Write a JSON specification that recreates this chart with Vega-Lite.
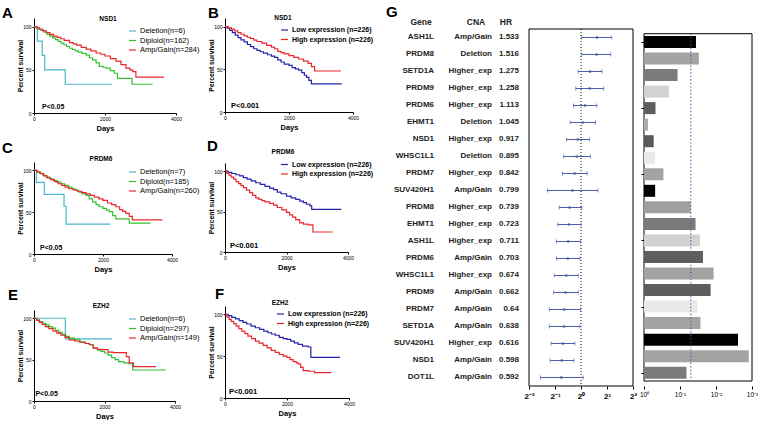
{
"$schema":"https://vega.github.io/schema/vega-lite/v6.json",
"background":"white",
"padding":{"left":2,"top":5,"right":0,"bottom":0},
"config":{
 "font":"Liberation Sans",
 "view":{"stroke":null},
 "axis":{"grid":false,"domainColor":"#000","tickColor":"#000","labelColor":"#000","titleColor":"#000","labelFontSize":5,"tickSize":2,"labelPadding":1,"titleFontSize":7,"titleFontWeight":"bold","labelFlush":false,"labelOverlap":false,"domainWidth":1,"tickWidth":1},
 "legend":{"orient":"none","labelFontSize":7.5,"symbolType":"stroke","symbolSize":50,"symbolStrokeWidth":1.2,"rowPadding":1.5,"labelOffset":3,"padding":0,"labelColor":"#000"},
 "text":{"color":"#000"}
},
"datasets":{
 "A":[
  {"g":"Deletion(n=6)","t":0,"s":100},{"g":"Deletion(n=6)","t":95,"s":83.3},{"g":"Deletion(n=6)","t":230,"s":66.7},{"g":"Deletion(n=6)","t":300,"s":50},{"g":"Deletion(n=6)","t":880,"s":33.3},{"g":"Deletion(n=6)","t":2200,"s":33.3},
  {"g":"Diploid(n=162)","t":0,"s":100},{"g":"Diploid(n=162)","t":60,"s":98.5},{"g":"Diploid(n=162)","t":130,"s":97},{"g":"Diploid(n=162)","t":200,"s":95.5},{"g":"Diploid(n=162)","t":280,"s":93.5},{"g":"Diploid(n=162)","t":360,"s":91},{"g":"Diploid(n=162)","t":440,"s":89},{"g":"Diploid(n=162)","t":520,"s":87},{"g":"Diploid(n=162)","t":600,"s":85},{"g":"Diploid(n=162)","t":680,"s":83},{"g":"Diploid(n=162)","t":760,"s":81},{"g":"Diploid(n=162)","t":840,"s":79},{"g":"Diploid(n=162)","t":920,"s":77},{"g":"Diploid(n=162)","t":1000,"s":75},{"g":"Diploid(n=162)","t":1080,"s":73.5},{"g":"Diploid(n=162)","t":1160,"s":72},{"g":"Diploid(n=162)","t":1250,"s":70.5},{"g":"Diploid(n=162)","t":1350,"s":69},{"g":"Diploid(n=162)","t":1470,"s":67},{"g":"Diploid(n=162)","t":1560,"s":64},{"g":"Diploid(n=162)","t":1650,"s":61.5},{"g":"Diploid(n=162)","t":1750,"s":58},{"g":"Diploid(n=162)","t":1840,"s":54},{"g":"Diploid(n=162)","t":1950,"s":53},{"g":"Diploid(n=162)","t":2030,"s":52},{"g":"Diploid(n=162)","t":2150,"s":49},{"g":"Diploid(n=162)","t":2260,"s":46},{"g":"Diploid(n=162)","t":2350,"s":40},{"g":"Diploid(n=162)","t":2760,"s":33.3},{"g":"Diploid(n=162)","t":3340,"s":33.3},
  {"g":"Amp/Gain(n=284)","t":0,"s":100},{"g":"Amp/Gain(n=284)","t":80,"s":98.5},{"g":"Amp/Gain(n=284)","t":160,"s":97},{"g":"Amp/Gain(n=284)","t":250,"s":95},{"g":"Amp/Gain(n=284)","t":350,"s":93},{"g":"Amp/Gain(n=284)","t":450,"s":91},{"g":"Amp/Gain(n=284)","t":550,"s":89},{"g":"Amp/Gain(n=284)","t":650,"s":87.5},{"g":"Amp/Gain(n=284)","t":750,"s":86},{"g":"Amp/Gain(n=284)","t":850,"s":84},{"g":"Amp/Gain(n=284)","t":1000,"s":81.5},{"g":"Amp/Gain(n=284)","t":1100,"s":80},{"g":"Amp/Gain(n=284)","t":1200,"s":78.5},{"g":"Amp/Gain(n=284)","t":1330,"s":76},{"g":"Amp/Gain(n=284)","t":1470,"s":74},{"g":"Amp/Gain(n=284)","t":1600,"s":72},{"g":"Amp/Gain(n=284)","t":1750,"s":69.5},{"g":"Amp/Gain(n=284)","t":1880,"s":68},{"g":"Amp/Gain(n=284)","t":2000,"s":66},{"g":"Amp/Gain(n=284)","t":2150,"s":63},{"g":"Amp/Gain(n=284)","t":2310,"s":60},{"g":"Amp/Gain(n=284)","t":2450,"s":56},{"g":"Amp/Gain(n=284)","t":2590,"s":52},{"g":"Amp/Gain(n=284)","t":2700,"s":50},{"g":"Amp/Gain(n=284)","t":2780,"s":48},{"g":"Amp/Gain(n=284)","t":2870,"s":41.5},{"g":"Amp/Gain(n=284)","t":3660,"s":41.5}
 ],
 "B":[
  {"g":"Low expression (n=226)","t":0,"s":100},{"g":"Low expression (n=226)","t":70,"s":98},{"g":"Low expression (n=226)","t":150,"s":95.5},{"g":"Low expression (n=226)","t":230,"s":93},{"g":"Low expression (n=226)","t":320,"s":90},{"g":"Low expression (n=226)","t":410,"s":87},{"g":"Low expression (n=226)","t":500,"s":84.5},{"g":"Low expression (n=226)","t":600,"s":82},{"g":"Low expression (n=226)","t":700,"s":79},{"g":"Low expression (n=226)","t":800,"s":76.5},{"g":"Low expression (n=226)","t":900,"s":74},{"g":"Low expression (n=226)","t":1000,"s":72},{"g":"Low expression (n=226)","t":1100,"s":70.5},{"g":"Low expression (n=226)","t":1200,"s":69},{"g":"Low expression (n=226)","t":1330,"s":67},{"g":"Low expression (n=226)","t":1450,"s":65.5},{"g":"Low expression (n=226)","t":1550,"s":64},{"g":"Low expression (n=226)","t":1650,"s":61},{"g":"Low expression (n=226)","t":1750,"s":58.5},{"g":"Low expression (n=226)","t":1850,"s":56},{"g":"Low expression (n=226)","t":2000,"s":54.5},{"g":"Low expression (n=226)","t":2100,"s":52},{"g":"Low expression (n=226)","t":2200,"s":50.5},{"g":"Low expression (n=226)","t":2300,"s":49},{"g":"Low expression (n=226)","t":2400,"s":46},{"g":"Low expression (n=226)","t":2480,"s":43},{"g":"Low expression (n=226)","t":2550,"s":40.5},{"g":"Low expression (n=226)","t":2620,"s":37},{"g":"Low expression (n=226)","t":2700,"s":33},{"g":"Low expression (n=226)","t":3650,"s":33},
  {"g":"High expression (n=226)","t":0,"s":100},{"g":"High expression (n=226)","t":100,"s":98.5},{"g":"High expression (n=226)","t":200,"s":97},{"g":"High expression (n=226)","t":300,"s":95},{"g":"High expression (n=226)","t":400,"s":93},{"g":"High expression (n=226)","t":500,"s":91},{"g":"High expression (n=226)","t":600,"s":89},{"g":"High expression (n=226)","t":700,"s":87.5},{"g":"High expression (n=226)","t":800,"s":86},{"g":"High expression (n=226)","t":900,"s":84},{"g":"High expression (n=226)","t":1000,"s":82.5},{"g":"High expression (n=226)","t":1150,"s":80.5},{"g":"High expression (n=226)","t":1300,"s":78},{"g":"High expression (n=226)","t":1450,"s":76},{"g":"High expression (n=226)","t":1550,"s":74},{"g":"High expression (n=226)","t":1650,"s":71},{"g":"High expression (n=226)","t":1750,"s":69.5},{"g":"High expression (n=226)","t":1850,"s":68},{"g":"High expression (n=226)","t":2000,"s":66},{"g":"High expression (n=226)","t":2150,"s":64},{"g":"High expression (n=226)","t":2300,"s":62},{"g":"High expression (n=226)","t":2450,"s":59.5},{"g":"High expression (n=226)","t":2600,"s":57},{"g":"High expression (n=226)","t":2700,"s":53},{"g":"High expression (n=226)","t":2800,"s":48},{"g":"High expression (n=226)","t":3620,"s":48}
 ],
 "C":[
  {"g":"Deletion(n=7)","t":0,"s":100},{"g":"Deletion(n=7)","t":70,"s":85.7},{"g":"Deletion(n=7)","t":300,"s":71.4},{"g":"Deletion(n=7)","t":870,"s":57.1},{"g":"Deletion(n=7)","t":930,"s":35.7},{"g":"Deletion(n=7)","t":2210,"s":35.7},
  {"g":"Diploid(n=185)","t":0,"s":100},{"g":"Diploid(n=185)","t":80,"s":98.5},{"g":"Diploid(n=185)","t":170,"s":96.5},{"g":"Diploid(n=185)","t":260,"s":94},{"g":"Diploid(n=185)","t":350,"s":92},{"g":"Diploid(n=185)","t":450,"s":90},{"g":"Diploid(n=185)","t":560,"s":88},{"g":"Diploid(n=185)","t":670,"s":86},{"g":"Diploid(n=185)","t":780,"s":84},{"g":"Diploid(n=185)","t":890,"s":82},{"g":"Diploid(n=185)","t":1000,"s":80},{"g":"Diploid(n=185)","t":1100,"s":78},{"g":"Diploid(n=185)","t":1200,"s":76},{"g":"Diploid(n=185)","t":1300,"s":74},{"g":"Diploid(n=185)","t":1400,"s":72},{"g":"Diploid(n=185)","t":1510,"s":70},{"g":"Diploid(n=185)","t":1600,"s":66},{"g":"Diploid(n=185)","t":1700,"s":62},{"g":"Diploid(n=185)","t":1800,"s":59},{"g":"Diploid(n=185)","t":1890,"s":56.5},{"g":"Diploid(n=185)","t":2000,"s":54.5},{"g":"Diploid(n=185)","t":2100,"s":52.5},{"g":"Diploid(n=185)","t":2180,"s":50.6},{"g":"Diploid(n=185)","t":2280,"s":46},{"g":"Diploid(n=185)","t":2370,"s":42},{"g":"Diploid(n=185)","t":2760,"s":36.8},{"g":"Diploid(n=185)","t":3380,"s":36.8},
  {"g":"Amp/Gain(n=260)","t":0,"s":100},{"g":"Amp/Gain(n=260)","t":90,"s":98},{"g":"Amp/Gain(n=260)","t":180,"s":96},{"g":"Amp/Gain(n=260)","t":280,"s":93.5},{"g":"Amp/Gain(n=260)","t":380,"s":91},{"g":"Amp/Gain(n=260)","t":480,"s":89},{"g":"Amp/Gain(n=260)","t":590,"s":86.5},{"g":"Amp/Gain(n=260)","t":700,"s":84},{"g":"Amp/Gain(n=260)","t":800,"s":82},{"g":"Amp/Gain(n=260)","t":900,"s":80},{"g":"Amp/Gain(n=260)","t":1000,"s":78},{"g":"Amp/Gain(n=260)","t":1130,"s":76.5},{"g":"Amp/Gain(n=260)","t":1250,"s":75},{"g":"Amp/Gain(n=260)","t":1380,"s":73.5},{"g":"Amp/Gain(n=260)","t":1510,"s":72},{"g":"Amp/Gain(n=260)","t":1630,"s":70},{"g":"Amp/Gain(n=260)","t":1750,"s":68},{"g":"Amp/Gain(n=260)","t":1880,"s":66},{"g":"Amp/Gain(n=260)","t":2000,"s":64},{"g":"Amp/Gain(n=260)","t":2130,"s":61},{"g":"Amp/Gain(n=260)","t":2250,"s":59},{"g":"Amp/Gain(n=260)","t":2370,"s":56.5},{"g":"Amp/Gain(n=260)","t":2480,"s":53},{"g":"Amp/Gain(n=260)","t":2570,"s":51},{"g":"Amp/Gain(n=260)","t":2660,"s":48.6},{"g":"Amp/Gain(n=260)","t":2760,"s":45},{"g":"Amp/Gain(n=260)","t":2850,"s":40.7},{"g":"Amp/Gain(n=260)","t":3720,"s":40.7}
 ],
 "D":[
  {"g":"Low expression (n=226)","t":0,"s":100},{"g":"Low expression (n=226)","t":100,"s":98.5},{"g":"Low expression (n=226)","t":220,"s":97},{"g":"Low expression (n=226)","t":350,"s":95.5},{"g":"Low expression (n=226)","t":480,"s":94},{"g":"Low expression (n=226)","t":600,"s":92},{"g":"Low expression (n=226)","t":720,"s":90},{"g":"Low expression (n=226)","t":850,"s":88},{"g":"Low expression (n=226)","t":1000,"s":85.6},{"g":"Low expression (n=226)","t":1150,"s":83.5},{"g":"Low expression (n=226)","t":1300,"s":81},{"g":"Low expression (n=226)","t":1450,"s":79},{"g":"Low expression (n=226)","t":1580,"s":77},{"g":"Low expression (n=226)","t":1700,"s":74},{"g":"Low expression (n=226)","t":1820,"s":72},{"g":"Low expression (n=226)","t":2000,"s":69},{"g":"Low expression (n=226)","t":2150,"s":67},{"g":"Low expression (n=226)","t":2300,"s":65},{"g":"Low expression (n=226)","t":2430,"s":63},{"g":"Low expression (n=226)","t":2550,"s":61},{"g":"Low expression (n=226)","t":2650,"s":59},{"g":"Low expression (n=226)","t":2760,"s":57},{"g":"Low expression (n=226)","t":2820,"s":52.7},{"g":"Low expression (n=226)","t":3780,"s":52.7},
  {"g":"High expression (n=226)","t":0,"s":100},{"g":"High expression (n=226)","t":60,"s":97.5},{"g":"High expression (n=226)","t":130,"s":95},{"g":"High expression (n=226)","t":200,"s":92.5},{"g":"High expression (n=226)","t":280,"s":90},{"g":"High expression (n=226)","t":360,"s":87},{"g":"High expression (n=226)","t":440,"s":84.5},{"g":"High expression (n=226)","t":520,"s":82},{"g":"High expression (n=226)","t":600,"s":79.5},{"g":"High expression (n=226)","t":700,"s":76.5},{"g":"High expression (n=226)","t":800,"s":73.5},{"g":"High expression (n=226)","t":900,"s":70},{"g":"High expression (n=226)","t":1000,"s":67},{"g":"High expression (n=226)","t":1100,"s":65},{"g":"High expression (n=226)","t":1200,"s":63.5},{"g":"High expression (n=226)","t":1300,"s":62},{"g":"High expression (n=226)","t":1450,"s":60},{"g":"High expression (n=226)","t":1580,"s":58},{"g":"High expression (n=226)","t":1700,"s":55},{"g":"High expression (n=226)","t":1850,"s":52},{"g":"High expression (n=226)","t":2000,"s":49},{"g":"High expression (n=226)","t":2100,"s":46},{"g":"High expression (n=226)","t":2200,"s":43},{"g":"High expression (n=226)","t":2300,"s":40},{"g":"High expression (n=226)","t":2430,"s":36},{"g":"High expression (n=226)","t":2550,"s":34.5},{"g":"High expression (n=226)","t":2700,"s":33.5},{"g":"High expression (n=226)","t":2860,"s":24.7},{"g":"High expression (n=226)","t":3500,"s":24.7}
 ],
 "E":[
  {"g":"Deletion(n=6)","t":0,"s":100},{"g":"Deletion(n=6)","t":890,"s":75},{"g":"Deletion(n=6)","t":2220,"s":75},
  {"g":"Diploid(n=297)","t":0,"s":100},{"g":"Diploid(n=297)","t":80,"s":98},{"g":"Diploid(n=297)","t":160,"s":96},{"g":"Diploid(n=297)","t":250,"s":94},{"g":"Diploid(n=297)","t":340,"s":92},{"g":"Diploid(n=297)","t":430,"s":90},{"g":"Diploid(n=297)","t":520,"s":88},{"g":"Diploid(n=297)","t":610,"s":85.5},{"g":"Diploid(n=297)","t":700,"s":83},{"g":"Diploid(n=297)","t":800,"s":80.5},{"g":"Diploid(n=297)","t":900,"s":78},{"g":"Diploid(n=297)","t":1000,"s":76},{"g":"Diploid(n=297)","t":1150,"s":74},{"g":"Diploid(n=297)","t":1300,"s":71.5},{"g":"Diploid(n=297)","t":1450,"s":69.5},{"g":"Diploid(n=297)","t":1570,"s":68},{"g":"Diploid(n=297)","t":1680,"s":64},{"g":"Diploid(n=297)","t":1800,"s":61.5},{"g":"Diploid(n=297)","t":1900,"s":60},{"g":"Diploid(n=297)","t":2000,"s":58},{"g":"Diploid(n=297)","t":2100,"s":55.5},{"g":"Diploid(n=297)","t":2200,"s":52.5},{"g":"Diploid(n=297)","t":2300,"s":50},{"g":"Diploid(n=297)","t":2400,"s":47.6},{"g":"Diploid(n=297)","t":2550,"s":46},{"g":"Diploid(n=297)","t":2700,"s":45},{"g":"Diploid(n=297)","t":2800,"s":37.5},{"g":"Diploid(n=297)","t":3740,"s":37.5},
  {"g":"Amp/Gain(n=149)","t":0,"s":100},{"g":"Amp/Gain(n=149)","t":70,"s":97.5},{"g":"Amp/Gain(n=149)","t":150,"s":95},{"g":"Amp/Gain(n=149)","t":230,"s":92.5},{"g":"Amp/Gain(n=149)","t":320,"s":90},{"g":"Amp/Gain(n=149)","t":420,"s":87.5},{"g":"Amp/Gain(n=149)","t":540,"s":84.5},{"g":"Amp/Gain(n=149)","t":650,"s":82},{"g":"Amp/Gain(n=149)","t":760,"s":79.5},{"g":"Amp/Gain(n=149)","t":880,"s":77},{"g":"Amp/Gain(n=149)","t":1000,"s":74},{"g":"Amp/Gain(n=149)","t":1150,"s":72.5},{"g":"Amp/Gain(n=149)","t":1300,"s":71},{"g":"Amp/Gain(n=149)","t":1450,"s":69.5},{"g":"Amp/Gain(n=149)","t":1570,"s":68},{"g":"Amp/Gain(n=149)","t":1680,"s":64},{"g":"Amp/Gain(n=149)","t":1800,"s":62.5},{"g":"Amp/Gain(n=149)","t":1950,"s":62},{"g":"Amp/Gain(n=149)","t":2100,"s":59},{"g":"Amp/Gain(n=149)","t":2250,"s":58.5},{"g":"Amp/Gain(n=149)","t":2620,"s":53.6},{"g":"Amp/Gain(n=149)","t":2700,"s":46},{"g":"Amp/Gain(n=149)","t":2820,"s":41.5},{"g":"Amp/Gain(n=149)","t":3460,"s":41.5}
 ],
 "F":[
  {"g":"Low expression (n=226)","t":0,"s":100},{"g":"Low expression (n=226)","t":100,"s":98.5},{"g":"Low expression (n=226)","t":220,"s":96.5},{"g":"Low expression (n=226)","t":340,"s":94.5},{"g":"Low expression (n=226)","t":460,"s":92.5},{"g":"Low expression (n=226)","t":580,"s":90.5},{"g":"Low expression (n=226)","t":700,"s":88.5},{"g":"Low expression (n=226)","t":840,"s":86},{"g":"Low expression (n=226)","t":980,"s":84},{"g":"Low expression (n=226)","t":1120,"s":82},{"g":"Low expression (n=226)","t":1250,"s":80},{"g":"Low expression (n=226)","t":1380,"s":78},{"g":"Low expression (n=226)","t":1500,"s":76.5},{"g":"Low expression (n=226)","t":1620,"s":75},{"g":"Low expression (n=226)","t":1750,"s":72.5},{"g":"Low expression (n=226)","t":1880,"s":71},{"g":"Low expression (n=226)","t":2000,"s":70},{"g":"Low expression (n=226)","t":2120,"s":68},{"g":"Low expression (n=226)","t":2240,"s":66},{"g":"Low expression (n=226)","t":2360,"s":64},{"g":"Low expression (n=226)","t":2500,"s":62},{"g":"Low expression (n=226)","t":2680,"s":61},{"g":"Low expression (n=226)","t":2770,"s":48.6},{"g":"Low expression (n=226)","t":3710,"s":48.6},
  {"g":"High expression (n=226)","t":0,"s":100},{"g":"High expression (n=226)","t":60,"s":97},{"g":"High expression (n=226)","t":130,"s":94},{"g":"High expression (n=226)","t":200,"s":91.5},{"g":"High expression (n=226)","t":280,"s":89},{"g":"High expression (n=226)","t":360,"s":86},{"g":"High expression (n=226)","t":450,"s":83},{"g":"High expression (n=226)","t":540,"s":80},{"g":"High expression (n=226)","t":640,"s":77},{"g":"High expression (n=226)","t":740,"s":74},{"g":"High expression (n=226)","t":860,"s":71},{"g":"High expression (n=226)","t":980,"s":68},{"g":"High expression (n=226)","t":1100,"s":65.5},{"g":"High expression (n=226)","t":1230,"s":63},{"g":"High expression (n=226)","t":1360,"s":60},{"g":"High expression (n=226)","t":1490,"s":57},{"g":"High expression (n=226)","t":1620,"s":54.5},{"g":"High expression (n=226)","t":1750,"s":52},{"g":"High expression (n=226)","t":1880,"s":50},{"g":"High expression (n=226)","t":2000,"s":48.6},{"g":"High expression (n=226)","t":2100,"s":46},{"g":"High expression (n=226)","t":2200,"s":43.5},{"g":"High expression (n=226)","t":2300,"s":42},{"g":"High expression (n=226)","t":2360,"s":40.7},{"g":"High expression (n=226)","t":2440,"s":36.5},{"g":"High expression (n=226)","t":2520,"s":32.8},{"g":"High expression (n=226)","t":2700,"s":32},{"g":"High expression (n=226)","t":2890,"s":30.4},{"g":"High expression (n=226)","t":3430,"s":30.4}
 ],
 "G":[
  {"id":1,"gene":"ASH1L","cna":"Amp/Gain","hr":1.533,"lo":1.02,"hi":2.27,"p":0.036},
  {"id":2,"gene":"PRDM8","cna":"Deletion","hr":1.516,"lo":1.02,"hi":2.21,"p":0.030},
  {"id":3,"gene":"SETD1A","cna":"Higher_exp","hr":1.275,"lo":0.93,"hi":1.75,"p":0.117},
  {"id":4,"gene":"PRDM9","cna":"Higher_exp","hr":1.258,"lo":0.87,"hi":1.83,"p":0.204},
  {"id":5,"gene":"PRDM6","cna":"Higher_exp","hr":1.113,"lo":0.82,"hi":1.53,"p":0.479},
  {"id":6,"gene":"EHMT1","cna":"Deletion","hr":1.045,"lo":0.75,"hi":1.47,"p":0.776},
  {"id":7,"gene":"NSD1","cna":"Higher_exp","hr":0.917,"lo":0.68,"hi":1.26,"p":0.537},
  {"id":8,"gene":"WHSC1L1","cna":"Deletion","hr":0.895,"lo":0.63,"hi":1.29,"p":0.50},
  {"id":9,"gene":"PRDM7","cna":"Higher_exp","hr":0.842,"lo":0.61,"hi":1.18,"p":0.288},
  {"id":10,"gene":"SUV420H1","cna":"Amp/Gain","hr":0.799,"lo":0.41,"hi":1.57,"p":0.49},
  {"id":11,"gene":"PRDM8","cna":"Higher_exp","hr":0.739,"lo":0.56,"hi":1.02,"p":0.050},
  {"id":12,"gene":"EHMT1","cna":"Higher_exp","hr":0.723,"lo":0.54,"hi":1.0,"p":0.037},
  {"id":13,"gene":"ASH1L","cna":"Higher_exp","hr":0.711,"lo":0.52,"hi":0.99,"p":0.028},
  {"id":14,"gene":"PRDM6","cna":"Amp/Gain","hr":0.703,"lo":0.52,"hi":0.97,"p":0.023},
  {"id":15,"gene":"WHSC1L1","cna":"Higher_exp","hr":0.674,"lo":0.49,"hi":0.93,"p":0.0117},
  {"id":16,"gene":"PRDM9","cna":"Amp/Gain","hr":0.662,"lo":0.48,"hi":0.93,"p":0.0141},
  {"id":17,"gene":"PRDM7","cna":"Amp/Gain","hr":0.64,"lo":0.43,"hi":0.99,"p":0.033},
  {"id":18,"gene":"SETD1A","cna":"Amp/Gain","hr":0.638,"lo":0.43,"hi":0.97,"p":0.027},
  {"id":19,"gene":"SUV420H1","cna":"Higher_exp","hr":0.616,"lo":0.45,"hi":0.85,"p":0.00245},
  {"id":20,"gene":"NSD1","cna":"Amp/Gain","hr":0.598,"lo":0.44,"hi":0.83,"p":0.00123},
  {"id":21,"gene":"DOT1L","cna":"Amp/Gain","hr":0.592,"lo":0.34,"hi":1.06,"p":0.066}
 ]
},
"resolve":{"scale":{"color":"independent"}},
"columns":2,
"align":"none",
"spacing":12,
"concat":[
 {"spacing":7,"resolve":{"scale":{"color":"independent"}},"hconcat":[
  {"spacing":14,"resolve":{"scale":{"color":"independent"}},"vconcat":[
   {"spacing":8,"resolve":{"scale":{"color":"independent"}},"vconcat":[
    {"width":142,"height":95,"data":{"name":"A"},
     "layer":[
      {"mark":{"type":"line","interpolate":"step-after","strokeWidth":1.2},
       "encoding":{
        "x":{"field":"t","type":"quantitative","scale":{"domain":[0,4000]},"axis":{"values":[0,1000,2000,3000,4000],"format":"d","title":"Days","titleFontSize":7.5,"titlePadding":3}},
        "y":{"field":"s","type":"quantitative","scale":{"domain":[0,110]},"axis":{"values":[0,50,100],"title":"Percent survival","titleFontSize":6.8,"minExtent":8,"maxExtent":8,"titlePadding":3}},
        "color":{"field":"g","type":"nominal","scale":{"domain":["Deletion(n=6)","Diploid(n=162)","Amp/Gain(n=284)"],"range":["#4fb7c8","#33c233","#e8272d"]},"legend":{"title":null,"legendX":94,"legendY":8.5}}}},
      {"data":{"values":[{}]},"mark":{"type":"text","fontSize":15,"fontWeight":"bold","align":"left","baseline":"middle","dx":-32,"dy":-5.5},"encoding":{"x":{"datum":0},"y":{"datum":110},"text":{"value":"A"}}},
      {"data":{"values":[{}]},"mark":{"type":"text","fontSize":6.5,"fontWeight":"bold"},"encoding":{"x":{"datum":2085},"y":{"datum":109},"text":{"value":"NSD1"}}},
      {"data":{"values":[{}]},"mark":{"type":"text","fontSize":7,"fontWeight":"bold","align":"left"},"encoding":{"x":{"datum":225},"y":{"datum":7},"text":{"value":"P<0.05"}}}
     ]},
    {"width":138,"height":92,"data":{"name":"C"},
     "layer":[
      {"mark":{"type":"line","interpolate":"step-after","strokeWidth":1.2},
       "encoding":{
        "x":{"field":"t","type":"quantitative","scale":{"domain":[0,4000]},"axis":{"values":[0,1000,2000,3000,4000],"format":"d","title":"Days","titleFontSize":7.5,"titlePadding":3}},
        "y":{"field":"s","type":"quantitative","scale":{"domain":[0,110]},"axis":{"values":[0,50,100],"title":"Percent survival","titleFontSize":6.8,"minExtent":8,"maxExtent":8,"titlePadding":3}},
        "color":{"field":"g","type":"nominal","scale":{"domain":["Deletion(n=7)","Diploid(n=185)","Amp/Gain(n=260)"],"range":["#4fb7c8","#33c233","#e8272d"]},"legend":{"title":null,"legendX":94,"legendY":5.5}}}},
      {"data":{"values":[{}]},"mark":{"type":"text","fontSize":15,"fontWeight":"bold","align":"left","baseline":"middle","dx":-32,"dy":-14.5},"encoding":{"x":{"datum":0},"y":{"datum":110},"text":{"value":"C"}}},
      {"data":{"values":[{}]},"mark":{"type":"text","fontSize":6.5,"fontWeight":"bold"},"encoding":{"x":{"datum":1942},"y":{"datum":113.5},"text":{"value":"PRDM6"}}},
      {"data":{"values":[{}]},"mark":{"type":"text","fontSize":7,"fontWeight":"bold","align":"left"},"encoding":{"x":{"datum":174},"y":{"datum":7},"text":{"value":"P<0.05"}}}
     ]}
   ]},
   {"width":141,"height":91,"data":{"name":"E"},
    "layer":[
     {"mark":{"type":"line","interpolate":"step-after","strokeWidth":1.2},
      "encoding":{
       "x":{"field":"t","type":"quantitative","scale":{"domain":[0,4000]},"axis":{"values":[0,1000,2000,3000,4000],"format":"d","title":"Days","titleFontSize":7.5,"titlePadding":3}},
       "y":{"field":"s","type":"quantitative","scale":{"domain":[0,110]},"axis":{"values":[0,50,100],"title":"Percent survival","titleFontSize":6.8,"minExtent":8,"maxExtent":8,"titlePadding":3}},
       "color":{"field":"g","type":"nominal","scale":{"domain":["Deletion(n=6)","Diploid(n=297)","Amp/Gain(n=149)"],"range":["#4fb7c8","#33c233","#e8272d"]},"legend":{"title":null,"legendX":94,"legendY":4.5}}}},
     {"data":{"values":[{}]},"mark":{"type":"text","fontSize":15,"fontWeight":"bold","align":"left","baseline":"middle","dx":-26,"dy":-15.5},"encoding":{"x":{"datum":0},"y":{"datum":110},"text":{"value":"E"}}},
     {"data":{"values":[{}]},"mark":{"type":"text","fontSize":6.5,"fontWeight":"bold"},"encoding":{"x":{"datum":1900},"y":{"datum":115},"text":{"value":"EZH2"}}},
     {"data":{"values":[{}]},"mark":{"type":"text","fontSize":7,"fontWeight":"bold","align":"left"},"encoding":{"x":{"datum":40},"y":{"datum":8.5},"text":{"value":"P<0.05"}}}
    ]}
  ]},
  {"spacing":16,"resolve":{"scale":{"color":"independent"}},"vconcat":[
   {"spacing":8,"resolve":{"scale":{"color":"independent"}},"vconcat":[
    {"width":128,"height":94,"data":{"name":"B"},
     "layer":[
      {"mark":{"type":"line","interpolate":"step-after","strokeWidth":1.2},
       "encoding":{
        "x":{"field":"t","type":"quantitative","scale":{"domain":[0,4000]},"axis":{"values":[0,1000,2000,3000,4000],"format":"d","title":"Days","titleFontSize":7.5,"titlePadding":3}},
        "y":{"field":"s","type":"quantitative","scale":{"domain":[0,110]},"axis":{"values":[0,50,100],"title":"Percent survival","titleFontSize":6.8,"minExtent":8,"maxExtent":8,"titlePadding":3}},
        "color":{"field":"g","type":"nominal","scale":{"domain":["Low expression (n=226)","High expression (n=226)"],"range":["#2424a8","#e8272d"]},"legend":{"title":null,"legendX":55,"legendY":7.5,"labelFontWeight":"bold","labelFontSize":7}}}},
      {"data":{"values":[{}]},"mark":{"type":"text","fontSize":15,"fontWeight":"bold","align":"left","baseline":"middle","dx":-17,"dy":-5.5},"encoding":{"x":{"datum":0},"y":{"datum":110},"text":{"value":"B"}}},
      {"data":{"values":[{}]},"mark":{"type":"text","fontSize":6.5,"fontWeight":"bold"},"encoding":{"x":{"datum":1812},"y":{"datum":110},"text":{"value":"NSD1"}}},
      {"data":{"values":[{}]},"mark":{"type":"text","fontSize":7.5,"fontWeight":"bold","align":"left"},"encoding":{"x":{"datum":190},"y":{"datum":7},"text":{"value":"P<0.001"}}}
     ]},
    {"width":123,"height":89,"data":{"name":"D"},
     "layer":[
      {"mark":{"type":"line","interpolate":"step-after","strokeWidth":1.2},
       "encoding":{
        "x":{"field":"t","type":"quantitative","scale":{"domain":[0,4000]},"axis":{"values":[0,1000,2000,3000,4000],"format":"d","title":"Days","titleFontSize":7.5,"titlePadding":3}},
        "y":{"field":"s","type":"quantitative","scale":{"domain":[0,110]},"axis":{"values":[0,50,100],"title":"Percent survival","titleFontSize":6.8,"minExtent":8,"maxExtent":8,"titlePadding":3}},
        "color":{"field":"g","type":"nominal","scale":{"domain":["Low expression (n=226)","High expression (n=226)"],"range":["#2424a8","#e8272d"]},"legend":{"title":null,"legendX":55,"legendY":-3,"labelFontWeight":"bold","labelFontSize":7}}}},
      {"data":{"values":[{}]},"mark":{"type":"text","fontSize":15,"fontWeight":"bold","align":"left","baseline":"middle","dx":-18,"dy":-17},"encoding":{"x":{"datum":0},"y":{"datum":110},"text":{"value":"D"}}},
      {"data":{"values":[{}]},"mark":{"type":"text","fontSize":6.5,"fontWeight":"bold"},"encoding":{"x":{"datum":1886},"y":{"datum":123.5},"text":{"value":"PRDM6"}}},
      {"data":{"values":[{}]},"mark":{"type":"text","fontSize":7.5,"fontWeight":"bold","align":"left"},"encoding":{"x":{"datum":160},"y":{"datum":7.4},"text":{"value":"P<0.001"}}}
     ]}
   ]},
   {"width":124,"height":92,"data":{"name":"F"},
    "layer":[
     {"mark":{"type":"line","interpolate":"step-after","strokeWidth":1.2},
      "encoding":{
       "x":{"field":"t","type":"quantitative","scale":{"domain":[0,4000]},"axis":{"values":[0,1000,2000,3000,4000],"format":"d","title":"Days","titleFontSize":7.5,"titlePadding":3}},
       "y":{"field":"s","type":"quantitative","scale":{"domain":[0,110]},"axis":{"values":[0,50,100],"title":"Percent survival","titleFontSize":6.8,"minExtent":8,"maxExtent":8,"titlePadding":3}},
       "color":{"field":"g","type":"nominal","scale":{"domain":["Low expression (n=226)","High expression (n=226)"],"range":["#2424a8","#e8272d"]},"legend":{"title":null,"legendX":51,"legendY":3.5,"labelFontWeight":"bold","labelFontSize":7}}}},
     {"data":{"values":[{}]},"mark":{"type":"text","fontSize":15,"fontWeight":"bold","align":"left","baseline":"middle","dx":-10,"dy":-12},"encoding":{"x":{"datum":0},"y":{"datum":110},"text":{"value":"F"}}},
     {"data":{"values":[{}]},"mark":{"type":"text","fontSize":6.5,"fontWeight":"bold"},"encoding":{"x":{"datum":1774},"y":{"datum":113.5},"text":{"value":"EZH2"}}},
     {"data":{"values":[{}]},"mark":{"type":"text","fontSize":7.5,"fontWeight":"bold","align":"left"},"encoding":{"x":{"datum":128},"y":{"datum":7},"text":{"value":"P<0.001"}}}
    ]}
  ]}
 ]},
 {"spacing":2,"resolve":{"scale":{"color":"independent"}},"hconcat":[
  {"width":100,"height":368,"data":{"name":"G"},
   "layer":[
    {"mark":{"type":"text","align":"right","dx":13,"fontSize":8,"fontWeight":"bold","color":"#222"},"encoding":{"x":{"datum":"Gene","type":"nominal","scale":{"type":"point","domain":["Gene","CNA","HR"],"padding":0},"axis":null},"y":{"field":"id","type":"quantitative","scale":{"domain":[-0.147,21.5],"reverse":true,"nice":false,"zero":false},"axis":null},"text":{"field":"gene","type":"nominal"}}},
    {"mark":{"type":"text","align":"right","dx":21,"fontSize":8,"fontWeight":"bold","color":"#222"},"encoding":{"x":{"datum":"CNA"},"y":{"field":"id","type":"quantitative"},"text":{"field":"cna","type":"nominal"}}},
    {"mark":{"type":"text","align":"right","dx":-2,"fontSize":8,"fontWeight":"bold","color":"#222"},"encoding":{"x":{"datum":"HR"},"y":{"field":"id","type":"quantitative"},"text":{"field":"hr","type":"nominal"}}},
    {"data":{"values":[{}]},"mark":{"type":"text","align":"center","dx":0,"dy":1.5,"fontSize":8.5,"fontWeight":"bold","color":"#222"},"encoding":{"x":{"datum":"Gene"},"y":{"datum":0,"type":"quantitative"},"text":{"value":"Gene"}}},
    {"data":{"values":[{}]},"mark":{"type":"text","align":"center","dx":5,"dy":1.5,"fontSize":8.5,"fontWeight":"bold","color":"#222"},"encoding":{"x":{"datum":"CNA"},"y":{"datum":0,"type":"quantitative"},"text":{"value":"CNA"}}},
    {"data":{"values":[{}]},"mark":{"type":"text","align":"center","dx":-15,"dy":1.5,"fontSize":8.5,"fontWeight":"bold","color":"#222"},"encoding":{"x":{"datum":"HR"},"y":{"datum":0,"type":"quantitative"},"text":{"value":"HR"}}},
    {"data":{"values":[{}]},"mark":{"type":"text","align":"left","baseline":"middle","dx":-35,"dy":-8,"fontSize":15,"fontWeight":"bold","color":"#000"},"encoding":{"x":{"datum":"Gene"},"y":{"datum":0,"type":"quantitative"},"text":{"value":"G"}}}
   ]},
  {"width":104,"height":368,"data":{"name":"G"},
   "layer":[
    {"data":{"values":[{}]},"mark":{"type":"rect","fill":"transparent","stroke":"#000","strokeWidth":1},"encoding":{"x":{"datum":0.25,"type":"quantitative","scale":{"type":"log","base":2,"domain":[0.25,4]},"axis":{"values":[0.25,0.5,1,2,4],"labelExpr":"datum.value == 0.25 ? '2⁻²' : datum.value == 0.5 ? '2⁻¹' : datum.value == 1 ? '2⁰' : datum.value == 2 ? '2¹' : '2²'","title":null,"labelFontSize":8,"labelFontWeight":"bold","tickSize":3,"labelPadding":3,"domain":false}},"x2":{"datum":4},"y":{"datum":0.5,"type":"quantitative","scale":{"domain":[-0.147,21.5],"reverse":true,"nice":false,"zero":false},"axis":null},"y2":{"datum":21.5}}},
    {"data":{"values":[{}]},"mark":{"type":"rule","strokeDash":[1,2],"color":"#000","strokeWidth":1},"encoding":{"x":{"datum":1,"type":"quantitative"},"y":{"datum":0.5,"type":"quantitative"},"y2":{"datum":21.5}}},
    {"mark":{"type":"rule","color":"#4b5da6","strokeWidth":1},"encoding":{"x":{"field":"lo","type":"quantitative"},"x2":{"field":"hi"},"y":{"field":"id","type":"quantitative"}}},
    {"mark":{"type":"tick","orient":"vertical","size":4,"thickness":1,"color":"#4b5da6"},"encoding":{"x":{"field":"lo","type":"quantitative"},"y":{"field":"id","type":"quantitative"}}},
    {"mark":{"type":"tick","orient":"vertical","size":4,"thickness":1,"color":"#4b5da6"},"encoding":{"x":{"field":"hi","type":"quantitative"},"y":{"field":"id","type":"quantitative"}}},
    {"mark":{"type":"square","size":5,"color":"#4b5da6","opacity":1,"filled":true},"encoding":{"x":{"field":"hr","type":"quantitative"},"y":{"field":"id","type":"quantitative"}}}
   ]},
  {"width":108,"height":368,"data":{"name":"G"},
   "layer":[
    {"data":{"values":[{}]},"mark":{"type":"rect","fill":"transparent","stroke":"#000","strokeWidth":1},"encoding":{"x":{"datum":0.001,"type":"quantitative","scale":{"type":"log","domain":[0.001,1],"reverse":true},"axis":{"values":[1,0.1,0.01,0.001],"labelExpr":"datum.value == 1 ? '10⁰' : datum.value == 0.1 ? '10⁻¹' : datum.value == 0.01 ? '10⁻²' : '10⁻³'","title":null,"labelFontSize":6.5,"tickSize":3,"labelPadding":2,"domain":false}},"x2":{"datum":1},"y":{"datum":0.5,"type":"quantitative","scale":{"domain":[-0.147,21.5],"reverse":true,"nice":false,"zero":false},"axis":{"values":[1,2,3,4,5,6,7,8,9,10,11,12,13,14,15,16,17,18,19,20,21],"labels":false,"domain":false,"ticks":true,"tickSize":3,"title":null,"grid":false}},"y2":{"datum":21.5}}},
    {"mark":{"type":"bar","orient":"horizontal","size":12},"encoding":{"x":{"field":"p","type":"quantitative"},"x2":{"datum":1},"y":{"field":"id","type":"quantitative"},"color":{"field":"id","type":"nominal","scale":{"domain":[1,2,3,4,5,6,7,8,9,10,11,12,13,14,15,16,17,18,19,20,21],"range":["#000000","#a3a3a3","#7b7b7b","#d2d2d2","#5e5e5e","#ababab","#5a5a5a","#e9e9e9","#a3a3a3","#000000","#a0a0a0","#7b7b7b","#d2d2d2","#5e5e5e","#a3a3a3","#5e5e5e","#e9e9e9","#a3a3a3","#000000","#a3a3a3","#7b7b7b"]},"legend":null}}},
    {"data":{"values":[{}]},"mark":{"type":"rule","strokeDash":[1.5,2],"color":"#4b5da6","strokeWidth":1},"encoding":{"x":{"datum":0.05,"type":"quantitative"},"y":{"datum":0.5,"type":"quantitative"},"y2":{"datum":21.5}}}
   ]}
 ]}
]
}
